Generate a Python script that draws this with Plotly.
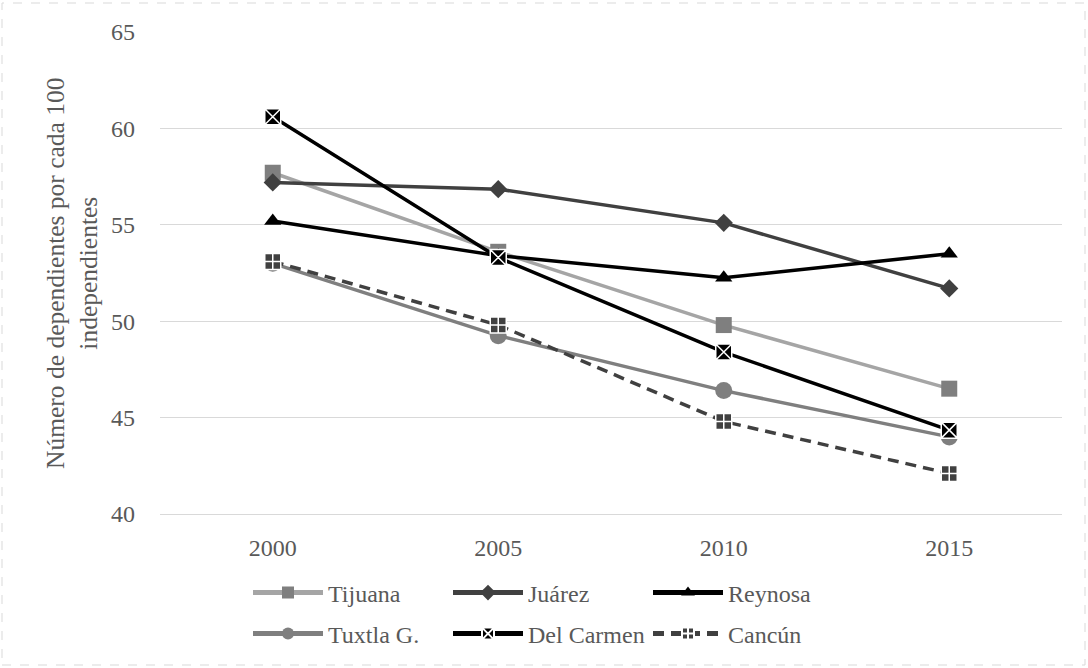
import plotly.graph_objects as go

# Dependency ratio (dependents per 100 independents) by city and census year
years = ["2000", "2005", "2010", "2015"]

tijuana = [57.7, 53.6, 49.8, 46.5]
juarez = [57.2, 56.85, 55.1, 51.7]
reynosa = [55.2, 53.4, 52.25, 53.5]
tuxtla = [53.0, 49.25, 46.4, 44.0]
del_carmen = [60.6, 53.3, 48.4, 44.35]
cancun = [53.1, 49.8, 44.8, 42.1]

y_ticks = [40, 45, 50, 55, 60, 65]

FONT = "Liberation Serif"
TEXT = "#595959"
GRID = "#D9D9D9"

series = [
    # name, values, line colour, dash, marker symbol, marker fill, marker outline, size, legend
    ("Tijuana", tijuana, "#A5A5A5", "solid", "square", "#7F7F7F", "#7F7F7F", 16, "legend"),
    ("Juárez", juarez, "#404040", "solid", "diamond", "#404040", "#404040", 14, "legend"),
    ("Reynosa", reynosa, "#000000", "solid", "triangle-up", "#000000", "#000000", 15, "legend"),
    ("Tuxtla G.", tuxtla, "#7F7F7F", "solid", "circle", "#7F7F7F", "#7F7F7F", 17, "legend2"),
    ("Del Carmen", del_carmen, "#000000", "solid", "square-x", "#000000", "#FFFFFF", 16, "legend2"),
    ("Cancún", cancun, "#404040", "11px,7px", "square-cross", "#404040", "#FFFFFF", 16, "legend2"),
]

fig = go.Figure()
for name, vals, lc, dash, sym, mfill, mline, msize, leg in series:
    fig.add_trace(go.Scatter(
        x=years, y=vals, name=name, mode="lines+markers",
        line=dict(color=lc, width=3.5, dash=dash),
        marker=dict(symbol=sym, size=msize, color=mfill,
                    line=dict(color=mline, width=1.5 if mline == "#FFFFFF" else 0)),
        legend=leg,
    ))

W, H = 1088, 668
L, R, T, B = 160, 26, 32, 154
pw, ph = W - L - R, H - T - B

def px_x(p):
    return (p - L) / pw

def px_y(p):
    return (H - B - p) / ph

legend_common = dict(
    orientation="h", xanchor="left", yanchor="middle",
    font=dict(family=FONT, size=24, color=TEXT),
    itemwidth=70, itemsizing="constant",
    entrywidth=115, entrywidthmode="pixels",
    bgcolor="rgba(0,0,0,0)", borderwidth=0, tracegroupgap=0,
)

fig.update_layout(
    width=W, height=H,
    margin=dict(l=L, r=R, t=T, b=B),
    paper_bgcolor="white", plot_bgcolor="white",
    font=dict(family=FONT, size=24, color=TEXT),
    showlegend=True,
    legend=dict(x=px_x(248), y=px_y(593), **legend_common),
    legend2=dict(x=px_x(248), y=px_y(634), **legend_common),
    xaxis=dict(
        type="category", categoryorder="array", categoryarray=years,
        range=[-0.5, len(years) - 0.5],
        showgrid=False, showline=True, linecolor=GRID, linewidth=1,
        ticks="", ticklabelstandoff=12,
        tickfont=dict(family=FONT, size=24, color=TEXT),
        zeroline=False,
    ),
    yaxis=dict(
        range=[40, 65], tickvals=y_ticks,
        showgrid=True, gridcolor=GRID, gridwidth=1,
        showline=False, zeroline=False, ticks="",
        ticklabelstandoff=24,
        tickfont=dict(family=FONT, size=24, color=TEXT),
    ),
    annotations=[dict(
        text="Número de dependientes por cada 100<br>independientes",
        xref="paper", yref="paper", x=0, y=0.5,
        xanchor="center", yanchor="middle", xshift=-(L - 72),
        textangle=-90, showarrow=False, align="center",
        font=dict(family=FONT, size=25.5, color=TEXT),
    )],
    shapes=[dict(
        type="rect", xref="paper", yref="paper",
        x0=px_x(2), x1=px_x(1085), y0=px_y(665), y1=px_y(3),
        line=dict(color=GRID, width=1, dash="dash"),
        fillcolor="rgba(0,0,0,0)", layer="below",
    )],
)

fig.write_html("out.html")
